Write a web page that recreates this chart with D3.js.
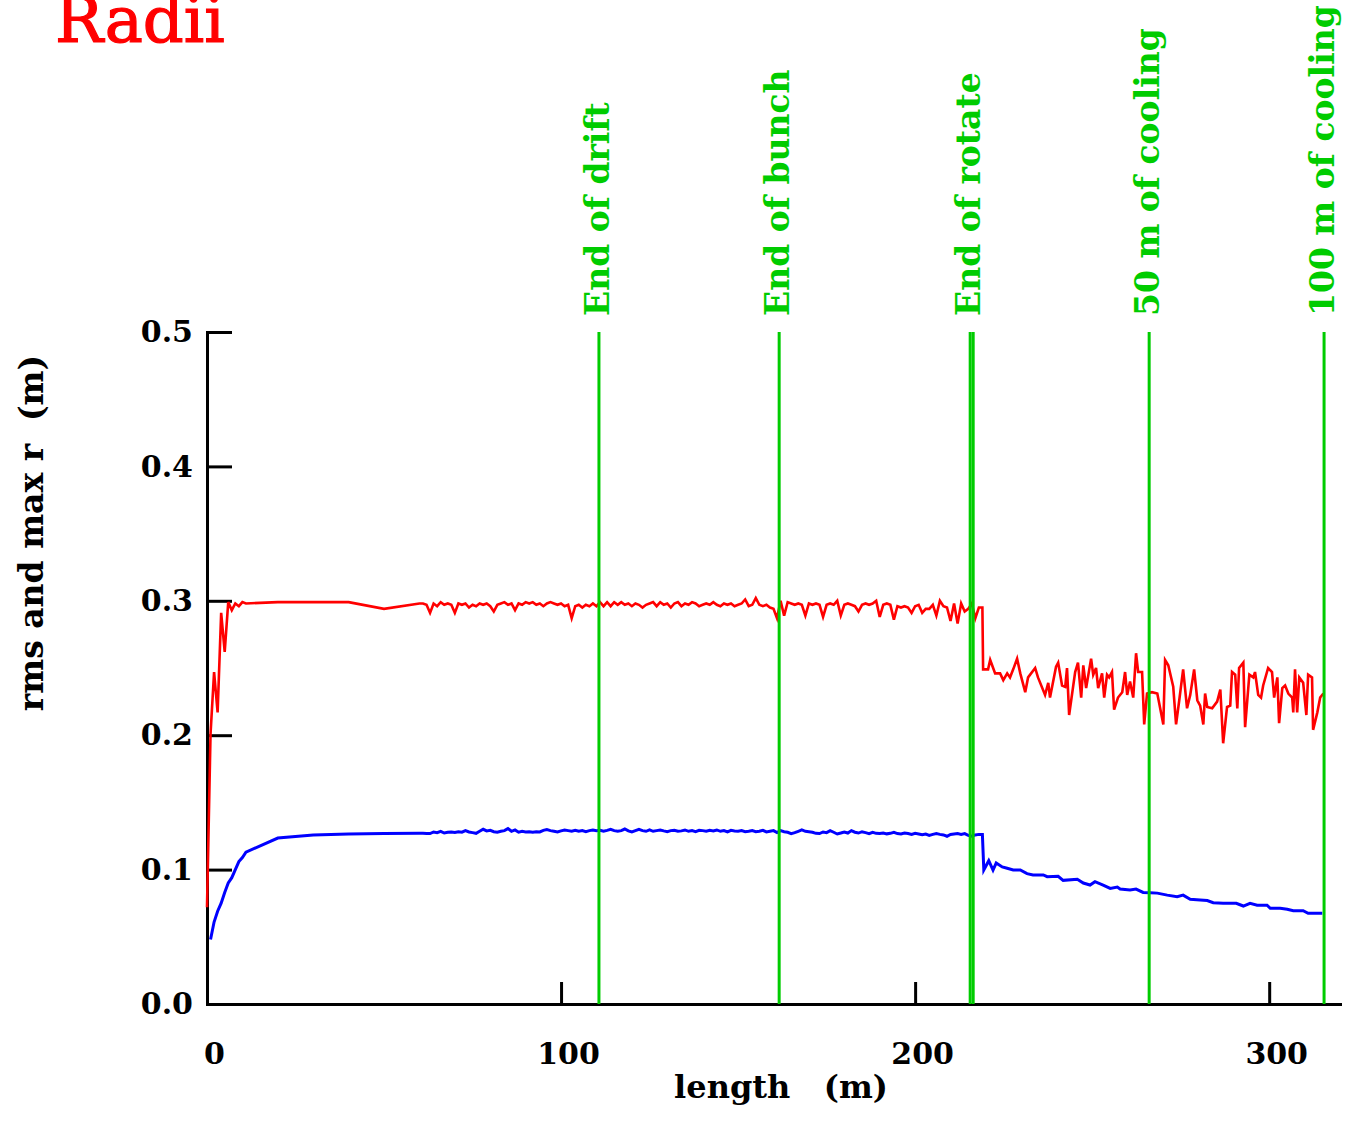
<!DOCTYPE html>
<html>
<head>
<meta charset="utf-8">
<script src="https://cdn.jsdelivr.net/npm/d3@7"></script>
<style>
  html, body { margin: 0; padding: 0; background: #fff; }
  svg { display: block; }
  text { font-family: "DejaVu Serif", "Liberation Serif", serif; }
</style>
</head>
<body>
<svg id="chart" width="1345" height="1126"></svg>
<script>
// ---- data: beam radii along the channel (length in m, radius in m) ----

// coarse samples at the start of the line
const earlyMaxZ = [0, 1, 2, 3, 4, 5, 6, 7, 8, 9, 10, 11, 20, 30, 40, 50, 60];
const earlyMaxR = [0.072, 0.201, 0.247, 0.217, 0.291, 0.262, 0.299, 0.293, 0.298, 0.296, 0.299, 0.298, 0.299, 0.299, 0.299, 0.294, 0.298];
const earlyRmsZ = [1, 2, 3, 4, 5, 6, 7, 8, 9, 10, 11, 20, 30, 40, 50, 60];
const earlyRmsR = [0.048, 0.061, 0.069, 0.075, 0.083, 0.090, 0.094, 0.100, 0.106, 0.109, 0.113, 0.1235, 0.1257, 0.1265, 0.1268, 0.1270];

// drift / buncher / rotator: one sample per metre, 61 m .. 219 m
const transportZ = d3.range(61, 220);
const transportMaxR = [
  0.298,0.297,0.291,0.298,0.296,0.299,0.297,0.298,0.297,0.291,
  0.298,0.297,0.298,0.295,0.297,0.296,0.298,0.297,0.298,0.296,
  0.292,0.297,0.298,0.299,0.297,0.298,0.293,0.298,0.297,0.299,
  0.298,0.299,0.297,0.298,0.296,0.298,0.299,0.298,0.297,0.298,
  0.296,0.297,0.287,0.296,0.297,0.295,0.297,0.296,0.298,0.296,
  0.299,0.296,0.299,0.296,0.299,0.297,0.299,0.297,0.298,0.296,
  0.298,0.297,0.295,0.297,0.298,0.299,0.296,0.299,0.297,0.298,
  0.295,0.298,0.299,0.296,0.298,0.297,0.299,0.298,0.296,0.297,
  0.298,0.297,0.299,0.297,0.296,0.298,0.297,0.298,0.296,0.297,
  0.298,0.301,0.296,0.297,0.302,0.297,0.296,0.297,0.295,0.294,
  0.287,0.300,0.289,0.299,0.298,0.297,0.298,0.297,0.289,0.298,
  0.297,0.298,0.297,0.288,0.297,0.298,0.297,0.300,0.289,0.297,
  0.298,0.297,0.296,0.292,0.297,0.298,0.297,0.298,0.300,0.288,
  0.297,0.298,0.297,0.286,0.296,0.295,0.296,0.295,0.291,0.296,
  0.297,0.291,0.294,0.294,0.297,0.289,0.300,0.296,0.295,0.285,
  0.298,0.283,0.298,0.292,0.294,0.298,0.287,0.295,0.295
];
const transportRmsR = [
  0.1270,0.1268,0.1268,0.1280,0.1275,0.1285,0.1272,0.1278,0.1280,0.1276,
  0.1282,0.1278,0.1290,0.1280,0.1275,0.1270,0.1285,0.1300,0.1288,0.1292,
  0.1282,0.1278,0.1285,0.1290,0.1305,0.1285,0.1295,0.1278,0.1285,0.1280,
  0.1282,0.1278,0.1282,0.1280,0.1292,0.1298,0.1290,0.1285,0.1280,0.1288,
  0.1295,0.1290,0.1285,0.1292,0.1285,0.1290,0.1282,0.1290,0.1295,0.1290,
  0.1292,0.1285,0.1292,0.1300,0.1290,0.1285,0.1290,0.1302,0.1288,0.1280,
  0.1290,0.1300,0.1290,0.1285,0.1295,0.1285,0.1290,0.1295,0.1288,0.1282,
  0.1290,0.1292,0.1285,0.1288,0.1295,0.1285,0.1290,0.1282,0.1292,0.1290,
  0.1285,0.1292,0.1288,0.1295,0.1285,0.1290,0.1280,0.1292,0.1288,0.1285,
  0.1290,0.1282,0.1285,0.1290,0.1282,0.1285,0.1292,0.1280,0.1285,0.1290,
  0.1275,0.1290,0.1282,0.1278,0.1268,0.1275,0.1285,0.1295,0.1285,0.1282,
  0.1278,0.1270,0.1268,0.1280,0.1275,0.1290,0.1278,0.1265,0.1272,0.1280,
  0.1272,0.1290,0.1278,0.1272,0.1282,0.1275,0.1268,0.1278,0.1270,0.1268,
  0.1272,0.1266,0.1270,0.1278,0.1268,0.1265,0.1272,0.1268,0.1262,0.1270,
  0.1265,0.1260,0.1265,0.1255,0.1262,0.1268,0.1262,0.1258,0.1248,0.1262,
  0.1265,0.1268,0.1262,0.1268,0.1255,0.1248,0.1258,0.1262,0.1262
];

// cooling channel samples
const coolMaxZ = [
  219.2,220.6,221.2,222.6,224.0,224.9,226.0,226.8,227.7,228.8,229.7,231.1,231.9,233.9,234.7,236.7,237.6,238.1,
  239.8,240.4,241.5,242.4,242.9,243.5,245.2,246.0,246.9,247.5,248.3,249.7,250.3,251.1,251.7,252.8,253.4,254.2,
  254.8,255.6,256.2,257.3,258.5,259.3,259.9,260.7,261.6,262.4,263.0,264.1,264.7,265.5,266.9,268.4,270.1,270.6,
  271.5,272.9,273.7,274.6,275.7,276.8,277.7,278.8,279.7,280.5,281.4,281.9,282.5,283.9,285.3,286.2,287.0,288.1,
  289.0,289.5,290.4,291.0,291.5,292.7,293.2,294.4,295.5,296.0,296.9,297.7,298.3,299.7,300.8,301.4,302.3,302.8,
  303.7,304.5,305.4,306.5,306.8,307.3,307.9,308.5,309.6,310.5,311.0,312.1,312.4,313.6,314.4,315.3
];
const coolMaxR = [
  0.249,0.249,0.256,0.246,0.246,0.241,0.246,0.243,0.249,0.257,0.246,0.232,0.243,0.250,0.243,0.230,0.239,0.228,
  0.251,0.254,0.237,0.236,0.250,0.215,0.247,0.254,0.228,0.252,0.235,0.257,0.245,0.250,0.235,0.246,0.228,0.245,
  0.243,0.247,0.219,0.228,0.232,0.247,0.230,0.240,0.228,0.261,0.247,0.247,0.208,0.231,0.232,0.231,0.208,0.256,
  0.252,0.236,0.208,0.226,0.249,0.220,0.230,0.249,0.226,0.222,0.208,0.231,0.221,0.220,0.225,0.234,0.194,0.221,
  0.222,0.247,0.245,0.220,0.250,0.254,0.206,0.245,0.243,0.247,0.230,0.228,0.237,0.250,0.247,0.228,0.243,0.209,
  0.235,0.237,0.231,0.228,0.217,0.249,0.217,0.243,0.239,0.215,0.245,0.243,0.204,0.217,0.228,0.231
];
const coolRmsZ = [
  219.4,220.8,222.0,222.9,224.6,226.0,227.7,229.7,231.6,233.3,236.2,237.3,240.4,241.8,245.8,247.5,249.4,250.8,
  253.1,255.1,257.1,257.9,260.7,262.4,264.4,266.4,268.4,271.2,274.0,275.7,277.7,280.5,282.5,284.2,287.0,290.7,
  292.7,294.6,296.6,299.4,300.3,303.1,305.1,306.8,309.6,311.0,315.0
];
const coolRmsR = [
  0.0997,0.1066,0.0997,0.1050,0.1020,0.1010,0.0997,0.0997,0.0970,0.0960,0.0960,0.0947,0.0950,0.0920,0.0928,0.0900,0.0885,0.0910,
  0.0885,0.0860,0.0870,0.0855,0.0848,0.0855,0.0830,0.0828,0.0825,0.0810,0.0798,0.0810,0.0779,0.0774,0.0770,0.0754,0.0749,0.0749,
  0.0729,0.0749,0.0735,0.0735,0.0712,0.0712,0.0705,0.0694,0.0694,0.0675,0.0675
];

// section boundaries along the line
const markerZ = [110.7, 161.6, 215.55, 216.4, 266.1, 315.5];
const markerLabels = ["End of drift", "End of bunch", "End of rotate", "", "50 m of cooling", "100 m of cooling"];

// axis ticks
const xTicks = [0, 100, 200, 300];
const yTicks = [0, 0.1, 0.2, 0.3, 0.4, 0.5];

// ---- drawing ----
const svg = d3.select("#chart");
const x = d3.scaleLinear().domain([0, 320]).range([207, 1340]);
const y = d3.scaleLinear().domain([0, 0.5]).range([1004, 332]);

const zip = (zs, rs) => zs.map((z, i) => [z, rs[i]]);
const maxSeries = [].concat(zip(earlyMaxZ, earlyMaxR), zip(transportZ, transportMaxR), zip(coolMaxZ, coolMaxR));
const rmsSeries = [].concat(zip(earlyRmsZ, earlyRmsR), zip(transportZ, transportRmsR), zip(coolRmsZ, coolRmsR));

const BOLD = "bold";

// title
svg.append("text")
  .attr("x", 55).attr("y", 42)
  .attr("fill", "#ff0000")
  .attr("stroke", "#ff0000").attr("stroke-width", 1.2)
  .attr("font-size", 64)
  .text("Radii");

// y axis (ticks point into the plot)
const yAxis = svg.append("g")
  .attr("transform", `translate(${x(0)},0)`)
  .call(d3.axisLeft(y).tickValues(yTicks).tickFormat(d3.format(".1f"))
    .tickSizeInner(-25).tickSizeOuter(0).tickPadding(14));

// x axis
const xAxis = svg.append("g")
  .attr("transform", `translate(0,${y(0)})`)
  .call(d3.axisBottom(x).tickValues(xTicks).tickFormat(d3.format("d"))
    .tickSizeInner(-22).tickSizeOuter(0).tickPadding(39));
xAxis.selectAll(".tick text").attr("dx", 7);

[yAxis, xAxis].forEach(g => {
  g.attr("font-family", null).attr("font-size", null);
  g.select(".domain").attr("stroke", "#000").attr("stroke-width", 3).attr("stroke-linecap", "square");
  g.selectAll(".tick line").attr("stroke", "#000").attr("stroke-width", 3);
  g.selectAll(".tick text").attr("fill", "#000").attr("font-size", 30).attr("font-weight", BOLD);
});

// axis titles
svg.append("text")
  .attr("x", 781).attr("y", 1098)
  .attr("text-anchor", "middle")
  .attr("font-size", 32).attr("font-weight", BOLD)
  .style("white-space", "pre")
  .text("length   (m)");

svg.append("text")
  .attr("transform", `translate(43,533) rotate(-90)`)
  .attr("text-anchor", "middle")
  .attr("font-size", 33).attr("font-weight", BOLD)
  .style("white-space", "pre")
  .text("rms and max r  (m)");

// curves
const line = d3.line().x(d => x(d[0])).y(d => y(d[1]));

svg.append("path")
  .datum(maxSeries)
  .attr("d", line)
  .attr("fill", "none")
  .attr("stroke", "#ff0000")
  .attr("stroke-width", 2.6);

svg.append("path")
  .datum(rmsSeries)
  .attr("d", line)
  .attr("fill", "none")
  .attr("stroke", "#0000ff")
  .attr("stroke-width", 3);

// section markers
const markers = svg.append("g");
markerZ.forEach((z, i) => {
  markers.append("line")
    .attr("x1", x(z)).attr("x2", x(z))
    .attr("y1", y(0.5)).attr("y2", y(0))
    .attr("stroke", "#00cc00")
    .attr("stroke-width", 3);
  if (markerLabels[i]) {
    markers.append("text")
      .attr("transform", `translate(${x(z) + 10},316) rotate(-90)`)
      .attr("fill", "#00cc00")
      .attr("font-size", 33).attr("font-weight", BOLD)
      .text(markerLabels[i]);
  }
});
</script>
</body>
</html>
